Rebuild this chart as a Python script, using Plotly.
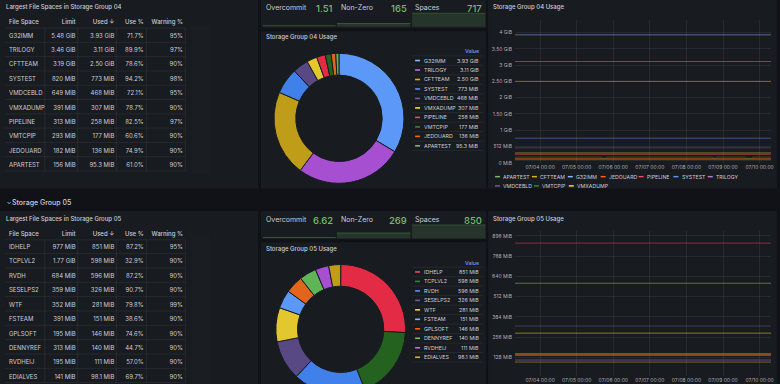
import plotly.graph_objects as go

FIG_W, FIG_H = 780, 400   # window is 384 tall; the lowest row is cut off like in the reference

# ---------------- data ----------------
table_header = ["File Space", "Limit", "Used ↓", "Use %", "Warning %"]
stat_labels = ["Overcommit", "Non-Zero", "Spaces"]

g04_names = ["G32IMM", "TRILOGY", "CFTTEAM", "SYSTEST", "VMDCEBLD", "VMXADUMP", "PIPELINE", "VMTCPIP", "JEDOUARD", "APARTEST"]
g04_limit = ["5.48 GiB", "3.46 GiB", "3.19 GiB", "820 MiB", "649 MiB", "391 MiB", "313 MiB", "293 MiB", "182 MiB", "156 MiB"]
g04_used = ["3.93 GiB", "3.11 GiB", "2.50 GiB", "773 MiB", "468 MiB", "307 MiB", "258 MiB", "177 MiB", "136 MiB", "95.3 MiB"]
g04_used_mib = [4024, 3185, 2560, 773, 468, 307, 258, 177, 136, 95.3]
g04_use_pct = ["71.7%", "89.9%", "78.6%", "94.2%", "72.1%", "78.7%", "82.5%", "60.6%", "74.9%", "61.0%"]
g04_warn_pct = ["95%", "97%", "90%", "98%", "95%", "90%", "97%", "90%", "90%", "90%"]
g04_stats = ["1.51", "165", "717"]

g05_names = ["IDHELP", "TCPLVL2", "RVDH", "SESELPS2", "WTF", "FSTEAM", "GPLSOFT", "DENNYREF", "RVDHEIJ", "EDIALVES"]
g05_limit = ["977 MiB", "1.77 GiB", "684 MiB", "359 MiB", "352 MiB", "391 MiB", "195 MiB", "313 MiB", "195 MiB", "141 MiB"]
g05_used = ["851 MiB", "598 MiB", "596 MiB", "326 MiB", "281 MiB", "151 MiB", "146 MiB", "140 MiB", "111 MiB", "98.1 MiB"]
g05_used_mib = [851, 598, 596, 326, 281, 151, 146, 140, 111, 98.1]
g05_use_pct = ["87.2%", "32.9%", "87.2%", "90.7%", "79.8%", "38.6%", "74.6%", "44.7%", "57.0%", "69.7%"]
g05_warn_pct = ["95%", "90%", "90%", "90%", "99%", "90%", "90%", "90%", "90%", "90%"]
g05_stats = ["6.62", "269", "850"]

ts_start, ts_end = "2023-07-03 07:30", "2023-07-10 07:30"
ts_day_ticks = ["2023-07-04", "2023-07-05", "2023-07-06", "2023-07-07", "2023-07-08", "2023-07-09", "2023-07-10"]
g04_ytick_mib = [0, 512, 1024, 1536, 2048, 2560, 3072, 3584, 4096]
g04_ytick_text = ["0 MiB", "512 MiB", "1 GiB", "1.50 GiB", "2 GiB", "2.50 GiB", "3 GiB", "3.50 GiB", "4 GiB"]
g05_ytick_mib = [128, 256, 384, 512, 640, 768, 896]
g05_ytick_text = ["128 MiB", "256 MiB", "384 MiB", "512 MiB", "640 MiB", "768 MiB", "896 MiB"]
# VMTCPIP has a few short dips
g04_vmtcpip_time = ["2023-07-03 07:30", "2023-07-05 16:00", "2023-07-05 16:30", "2023-07-05 19:00", "2023-07-05 19:30",
                    "2023-07-08 17:00", "2023-07-08 17:30", "2023-07-08 19:00", "2023-07-08 19:30",
                    "2023-07-09 14:00", "2023-07-09 14:30", "2023-07-09 19:00", "2023-07-09 19:30", "2023-07-10 07:30"]
g04_vmtcpip_mib = [177, 177, 140, 140, 177, 177, 140, 140, 177, 177, 140, 140, 177, 177]

# ---------------- style ----------------
BG = "#111217"
PANEL = "#181b1f"
TXT = "#ccccdc"
SEP = "rgba(204,204,220,0.08)"
GRID = "rgba(204,204,220,0.09)"
GREEN = "#73BF69"
FONT = "Inter, Roboto, sans-serif"
classic = ["#73BF69", "#E0B400", "#8AB8FF", "#FA6400", "#F2495C", "#5794F2", "#B877D9", "#705DA0", "#37872D", "#FADE2A"]
pie_shade = ["#5fb457", "#bf9d18", "#5c98f7", "#e2651b", "#e42b45", "#3f80ea", "#a64fd1", "#584884", "#24621f", "#e3c72e"]
NB = "\u00a0"


def nb(lst):
    # keep each table cell on one line
    return [s.replace(" ", NB) for s in lst]


def X(px):
    return px / FIG_W


def Y(py):
    return 1 - py / FIG_H


shapes, annotations = [], []


def rect(x0, y0, x1, y1, fill, layer="below"):
    shapes.append(dict(type="rect", xref="paper", yref="paper", x0=X(x0), x1=X(x1), y0=Y(y1), y1=Y(y0),
                       fillcolor=fill, line=dict(width=0), layer=layer))


def hline(x0, x1, y, color=SEP, width=1):
    shapes.append(dict(type="line", xref="paper", yref="paper", x0=X(x0), x1=X(x1), y0=Y(y), y1=Y(y),
                       line=dict(color=color, width=width), layer="above"))


def vline(x, y0, y1, color=SEP):
    shapes.append(dict(type="line", xref="paper", yref="paper", x0=X(x), x1=X(x), y0=Y(y0), y1=Y(y1),
                       line=dict(color=color, width=1), layer="above"))


def text(x, y, s, size, color=TXT, anchor="left", weight=400):
    annotations.append(dict(xref="paper", yref="paper", x=X(x), y=Y(y), text=s, showarrow=False,
                            xanchor=anchor, yanchor="middle", borderpad=0, borderwidth=0,
                            font=dict(family=FONT, size=size, color=color, weight=weight)))


fig = go.Figure()

# panel backgrounds
for top in (0, 212.5):
    rect(0, top, 259, top + 190, PANEL)
    rect(262, top, 488, top + 28.5, PANEL)
    rect(262, top + 31.5, 488, top + 190, PANEL)
    rect(490, top, 780, top + 190, PANEL)

groups = [
    dict(off=0, name="04", names=g04_names, limit=g04_limit, used=g04_used, mib=g04_used_mib,
         pct=g04_use_pct, warn=g04_warn_pct, stats=g04_stats),
    dict(off=213.3, name="05", names=g05_names, limit=g05_limit, used=g05_used, mib=g05_used_mib,
         pct=g05_use_pct, warn=g05_warn_pct, stats=g05_stats),
]

for gi, g in enumerate(groups):
    o = g["off"]
    alpha = sorted(g["names"])
    col = {n: classic[i] for i, n in enumerate(alpha)}
    shade = {n: pie_shade[i] for i, n in enumerate(alpha)}

    # ---- table ----
    text(6, o + 7, "Largest File Spaces in Storage Group " + g["name"], 6, weight=500)
    row_c0 = o + 35.5 if gi == 0 else o + 35
    row_h = 14.4 if gi == 0 else 14.45
    head_c = o + 22
    fig.add_trace(go.Table(
        domain=dict(x=[X(1), X(192)], y=[max(0, Y(o + 175)), Y(head_c - 10.3)]),
        columnwidth=[45, 38, 39, 29.5, 39.5],
        header=dict(values=nb(table_header), align=["left", "right", "right", "right", "right"],
                    font=dict(family=FONT, size=6, color=TXT, weight=500),
                    fill_color="rgba(0,0,0,0)", line_color="rgba(0,0,0,0)", height=(row_c0 - head_c)),
        cells=dict(values=[nb(g["names"]), nb(g["limit"]), nb(g["used"]), nb(g["pct"]), nb(g["warn"])],
                   align=["left", "right", "right", "right", "right"],
                   font=dict(family=FONT, size=6, color=TXT),
                   fill_color="rgba(0,0,0,0)", line_color="rgba(0,0,0,0)", height=row_h),
    ))
    # row / column separators
    hline(5, 186, head_c + 6.3)
    for i in range(len(g["names"])):
        hline(5, 186, row_c0 + i * row_h + row_h / 2)
    for xs in (45, 78, 117, 147, 186):
        vline(xs, head_c + 6.3, min(row_c0 + (len(g["names"]) - 1) * row_h + row_h / 2, 400))

    # ---- stats ----
    for k, (lab, val) in enumerate(zip(stat_labels, g["stats"])):
        x0 = 267 + k * 75
        text(x0, o + 8, lab, 7)
        text(x0 + 67.5 - (0 if k == 0 else 0.5), o + 8.7, val, 9.5, color=GREEN, anchor="right", weight=500)
    hline(264, 337, o + 26, color="rgba(115,191,105,0.35)")
    nz_top = o + 23.7 if gi == 0 else o + 234.7 - 213.3
    sp_top = o + 13.3
    rect(338.3, nz_top, 412, o + 27, "rgba(115,191,105,0.16)", layer="above")
    hline(338.3, 412, nz_top, color="rgba(115,191,105,0.30)")
    rect(413.7, sp_top, 487.3, o + 27, "rgba(115,191,105,0.16)", layer="above")
    hline(413.7, 487.3, sp_top, color="rgba(115,191,105,0.25)")

    # ---- pie ----
    pie_title_y = o + 37.7
    text(267, pie_title_y, "Storage Group " + g["name"] + " Usage", 6, weight=500)
    cx, cy, r = (340.3, o + 119.2, 65.5) if gi == 0 else (342, o + 118.5, 65.3)
    fig.add_trace(go.Pie(
        values=g["mib"], labels=g["names"], sort=False, direction="clockwise", rotation=0, hole=0.665,
        marker=dict(colors=[shade[n] for n in g["names"]], line=dict(color=PANEL, width=1)),
        textinfo="none", hoverinfo="label+value", showlegend=False,
        domain=dict(x=[X(cx - r), X(cx + r)], y=[Y(cy + r), Y(cy - r)]),
    ))
    # pie legend (table style)
    ly0 = o + 61 if gi == 0 else o + 60.7
    text(481, ly0 - 9.3, "Value", 5.3, color="#6E9FFF", anchor="right", weight=500)
    for i, n in enumerate(g["names"]):
        yy = ly0 + i * 9.55
        hline(414, 485, yy - 4.75)
        rect(416.7, yy - 0.8, 421.7, yy + 0.8, col[n], layer="above")
        text(425.7, yy, n, 5.3)
        text(481, yy, g["used"][i], 5.3, anchor="right")
    hline(414, 485, ly0 + 9 * 9.55 + 4.75)

    # ---- time series ----
    text(494.7, o + 7.3, "Storage Group " + g["name"] + " Usage", 6, weight=500)
    xa = "x" if gi == 0 else "x2"
    ya = "y" if gi == 0 else "y2"
    for n in alpha:
        v = g["mib"][g["names"].index(n)]
        if n == "VMTCPIP":
            xs, ys = g04_vmtcpip_time, g04_vmtcpip_mib
        else:
            xs, ys = [ts_start, ts_end], [v, v]
        fig.add_trace(go.Scatter(x=xs, y=ys, mode="lines", line=dict(color=col[n], width=1, shape="hv"),
                                 opacity=0.5, xaxis=xa, yaxis=ya, showlegend=False, hoverinfo="skip"))
    if gi == 0:
        leg_pos = [(497, 178), (534, 178), (570, 178), (603, 178), (641, 178), (676, 178), (710.5, 178),
                   (497, 187.3), (536, 187.3), (571, 187.3)]
        for (lx, lyy), n in zip(leg_pos, alpha):
            rect(lx, lyy - 0.75, lx + 5, lyy + 0.75, col[n], layer="above")
            text(lx + 8.3, lyy, n, 5.2)

# section row header
shapes.append(dict(type="path", xref="paper", yref="paper",
                   path=f"M {X(7.6)} {Y(203.6)} L {X(9.1)} {Y(205.3)} L {X(10.6)} {Y(203.6)}",
                   line=dict(color=TXT, width=0.8), layer="above"))
text(12.3, 204.3, "Storage Group 05", 7, weight=500)

axis_font = dict(family=FONT, size=5, color="rgba(204,204,220,0.85)")
xcommon = dict(type="date", range=[ts_start, ts_end], tickvals=ts_day_ticks, tickformat="%m/%d %H:%M",
               showgrid=True, gridcolor=GRID, gridwidth=1, zeroline=False, showline=False, ticks="",
               tickfont=axis_font, domain=[X(517), X(774)], fixedrange=True)
ycommon = dict(showgrid=True, gridcolor=GRID, gridwidth=1, zeroline=False, showline=False, ticks="",
               tickfont=axis_font, fixedrange=True, ticklabelstandoff=2)

fig.update_layout(
    width=FIG_W, height=FIG_H, margin=dict(l=0, r=0, t=0, b=0),
    paper_bgcolor=BG, plot_bgcolor="rgba(0,0,0,0)",
    font=dict(family=FONT, color=TXT),
    showlegend=False,
    shapes=shapes, annotations=annotations,
    xaxis=dict(**xcommon, anchor="y"),
    yaxis=dict(**ycommon, anchor="x", domain=[Y(164), Y(20)], range=[0, 4495],
               tickvals=g04_ytick_mib, ticktext=g04_ytick_text),
    xaxis2=dict(**xcommon, anchor="y2"),
    yaxis2=dict(**ycommon, anchor="x2", domain=[Y(379), Y(233)], range=[8.8, 926],
                tickvals=g05_ytick_mib, ticktext=g05_ytick_text),
)

fig.write_html("out.html", config=dict(displayModeBar=False),
               post_script="document.body.style.margin='0';document.body.style.overflow='hidden';"
                           "document.documentElement.style.overflow='hidden';")
